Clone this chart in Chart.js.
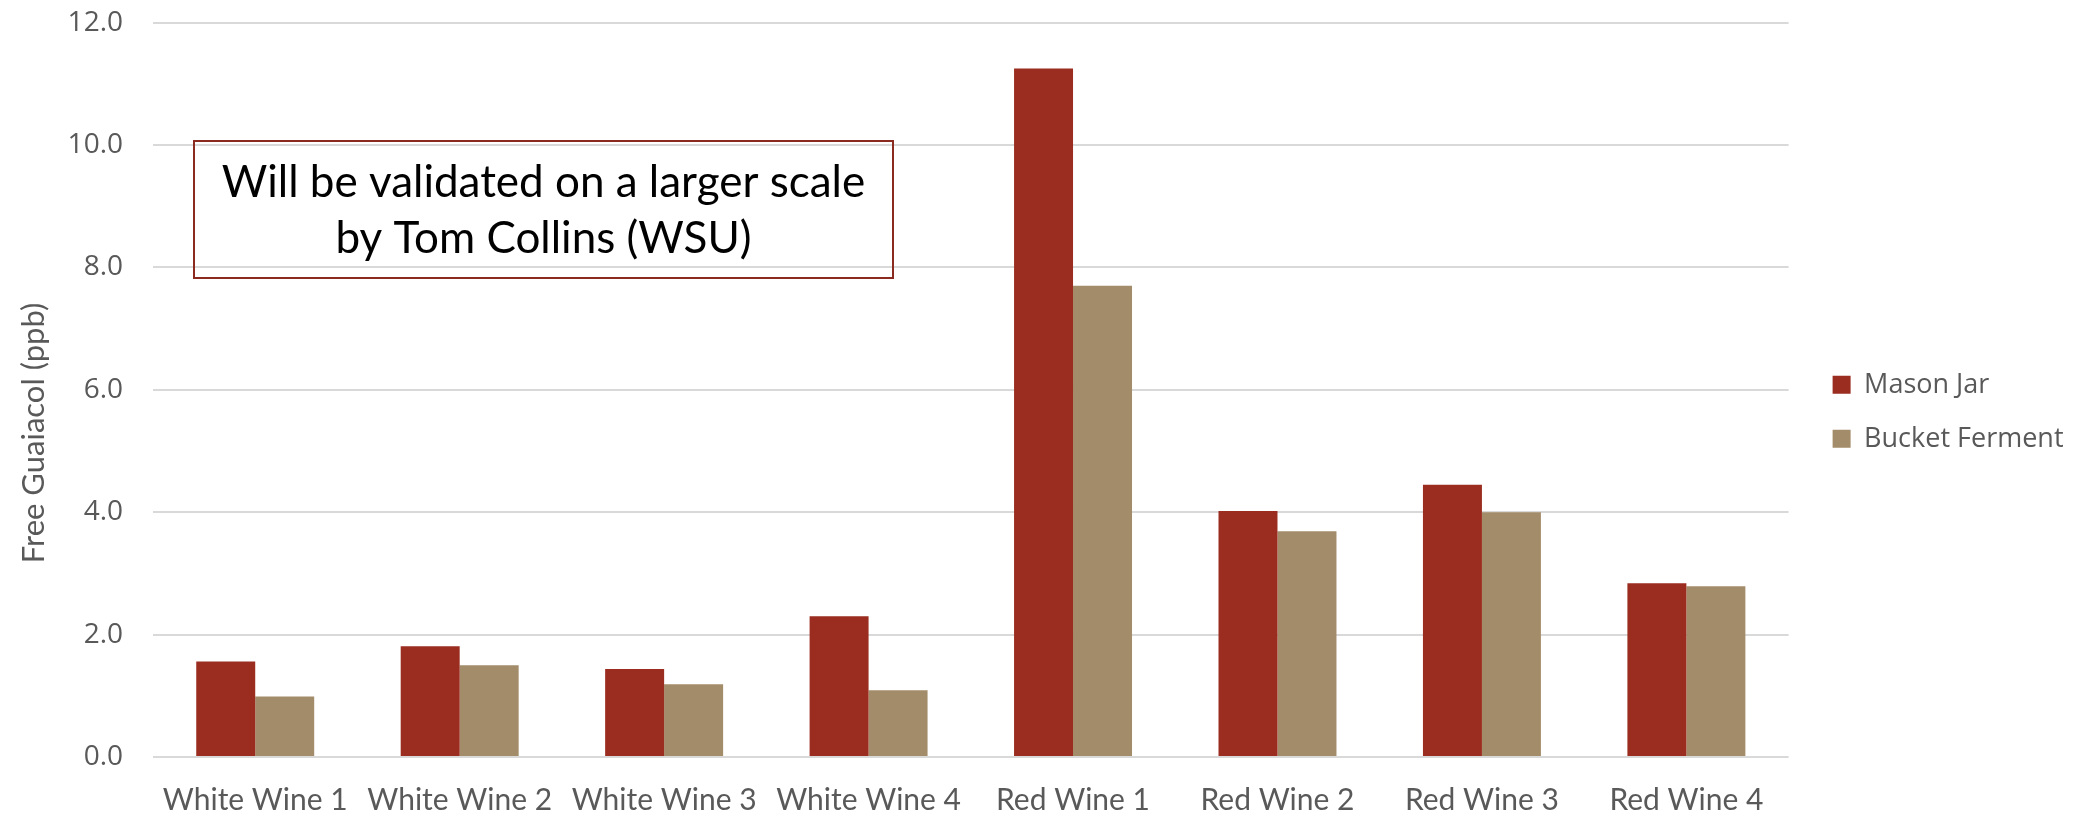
<!DOCTYPE html>
<html>
<head>
<meta charset="utf-8">
<title>Free Guaiacol</title>
<script src="https://cdn.jsdelivr.net/npm/chart.js@4.4.1/dist/chart.umd.min.js"></script>
<style>
  html, body { margin: 0; padding: 0; background: #ffffff; }
  #grafico { display: block; }
</style>
</head>
<body>
<canvas id="grafico" width="2087" height="813"></canvas>
<script>
// ---------- DADOS ----------

var categorias = [
  "White Wine 1", "White Wine 2", "White Wine 3", "White Wine 4",
  "Red Wine 1", "Red Wine 2", "Red Wine 3", "Red Wine 4"
];
var nomesSeries = ["Mason Jar", "Bucket Ferment"];
var valoresMasonJar = [1.56, 1.81, 1.44, 2.30, 11.25, 4.02, 4.45, 2.84];
var valoresBucket = [0.99, 1.50, 1.19, 1.09, 7.70, 3.69, 4.00, 2.79];
var marcasY = [0, 2, 4, 6, 8, 10, 12];
var tituloY = "Free Guaiacol (ppb)";
var textoCaixa = ["Will be validated on a larger scale", "by Tom Collins (WSU)"];

// ---------- ESTILO ----------

var COR_MASON = "#9a2d20";
var COR_BUCKET = "#a38c69";
var COR_TEXTO = "#595959";
var COR_GRADE = "#d9d9d9";

// ---------- PLUGINS ----------

// empurra a legenda um pouco para a direita e para cima
var ajusteLegenda = {
  id: "ajusteLegenda",
  afterLayout: function (chart) {
    var legenda = chart.legend;
    if (!legenda) return;
    legenda.left += 17;
    legenda.right += 17;
    legenda.top -= 6;
    legenda.bottom -= 6;
  }
};

// título do eixo y (um pouco abaixo do centro, como no original)
var tituloEixoY = {
  id: "tituloEixoY",
  afterDraw: function (chart) {
    var ctx = chart.ctx;
    ctx.save();
    ctx.translate(34, 433);
    ctx.rotate(-Math.PI / 2);
    ctx.fillStyle = COR_TEXTO;
    ctx.font = "31px Lato";
    ctx.textAlign = "center";
    ctx.textBaseline = "middle";
    ctx.fillText(tituloY, 0, 0);
    ctx.restore();
  }
};

// caixa de texto com borda vermelha
var caixaTexto = {
  id: "caixaTexto",
  afterDraw: function (chart) {
    var ctx = chart.ctx;
    ctx.save();
    ctx.strokeStyle = "#8b2a20";
    ctx.lineWidth = 2;
    ctx.strokeRect(194, 141, 699, 137);
    ctx.fillStyle = "#000000";
    ctx.font = "44px Lato";
    ctx.textAlign = "center";
    ctx.textBaseline = "alphabetic";
    ctx.fillText(textoCaixa[0], 543.5, 197);
    ctx.fillText(textoCaixa[1], 543.5, 253);
    ctx.restore();
  }
};

// ---------- GRÁFICO ----------

var ctx = document.getElementById("grafico").getContext("2d");

var grafico = new Chart(ctx, {
  type: "bar",
  data: {
    labels: categorias,
    datasets: [
      {
        label: nomesSeries[0],
        data: valoresMasonJar,
        backgroundColor: COR_MASON,
        borderWidth: 0,
        categoryPercentage: 0.577,
        barPercentage: 1
      },
      {
        label: nomesSeries[1],
        data: valoresBucket,
        backgroundColor: COR_BUCKET,
        borderWidth: 0,
        categoryPercentage: 0.577,
        barPercentage: 1
      }
    ]
  },
  options: {
    responsive: false,
    animation: false,
    devicePixelRatio: 1,
    layout: {
      padding: { left: 0, top: 22.7, right: 30.5, bottom: 0 }
    },
    plugins: {
      legend: {
        position: "right",
        align: "center",
        labels: {
          color: COR_TEXTO,
          font: { family: "'Open Sans'", size: 27 },
          boxWidth: 18,
          boxHeight: 18,
          padding: 27
        }
      },
      tooltip: { enabled: false }
    },
    scales: {
      x: {
        grid: { display: false },
        border: { display: false },
        ticks: {
          color: COR_TEXTO,
          font: { family: "Lato", size: 30 },
          maxRotation: 0,
          autoSkip: false,
          padding: 17
        },
        afterFit: function (escala) {
          escala.height = 56;
        }
      },
      y: {
        min: 0,
        max: 12,
        border: { display: false },
        grid: {
          color: COR_GRADE,
          lineWidth: 2,
          drawTicks: false
        },
        ticks: {
          color: COR_TEXTO,
          font: { family: "'Open Sans'", size: 28 },
          padding: 30,
          callback: function (valor) {
            return Number(valor).toFixed(1);
          }
        },
        afterBuildTicks: function (escala) {
          escala.ticks = marcasY.map(function (v) {
            return { value: v };
          });
        },
        afterFit: function (escala) {
          escala.width = 153;
          escala.paddingTop = 0;
          escala.paddingBottom = 0;
        }
      }
    }
  },
  plugins: [ajusteLegenda, tituloEixoY, caixaTexto]
});
</script>
</body>
</html>
